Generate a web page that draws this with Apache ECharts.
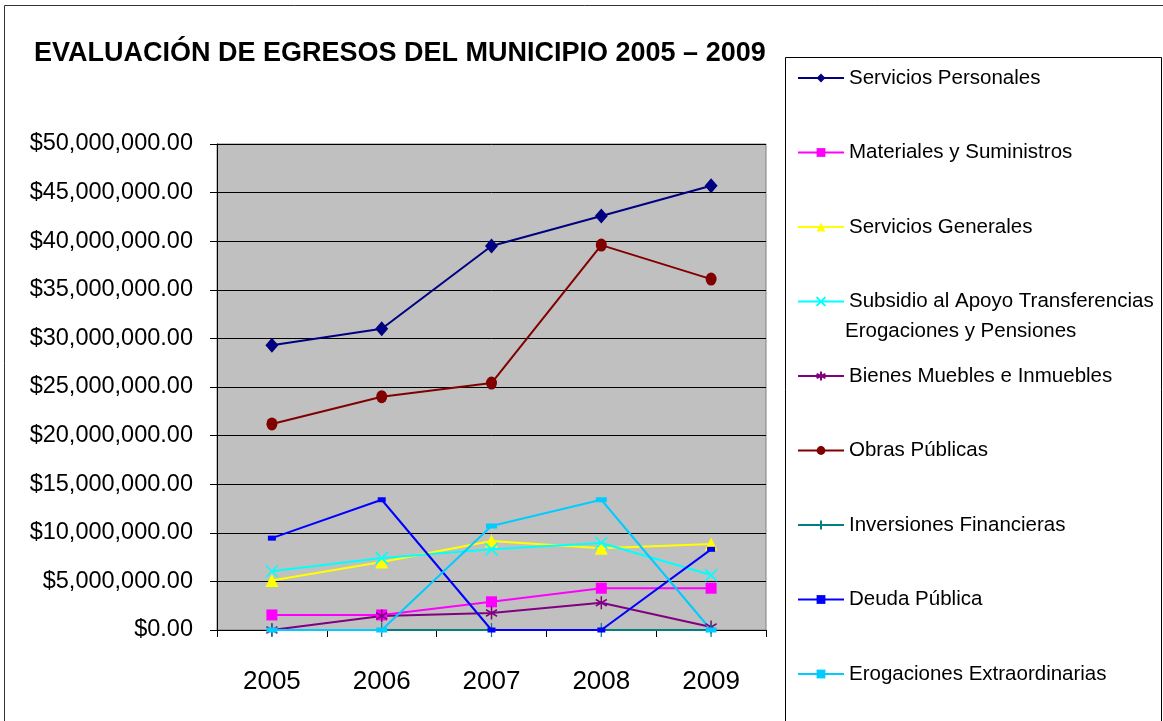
<!DOCTYPE html>
<html>
<head>
<meta charset="utf-8">
<script src="https://cdn.jsdelivr.net/npm/echarts@6/dist/echarts.min.js"></script>
<style>
  html, body { margin: 0; padding: 0; background: #fff; }
  #main { width: 1163px; height: 721px; }
</style>
</head>
<body>
<div id="main"></div>
<script>
// años
let years = ['2005', '2006', '2007', '2008', '2009'];

// valores (pesos)
let serviciosPersonales = [29300000, 31000000, 39500000, 42600000, 45700000];
let materiales = [1550000, 1550000, 2900000, 4300000, 4300000];
let serviciosGenerales = [5100000, 7000000, 9150000, 8400000, 8850000];
let subsidio = [6050000, 7400000, 8300000, 8950000, 5650000];
let bienesMuebles = [0, 1450000, 1750000, 2800000, 300000];
let obrasPublicas = [21200000, 24000000, 25400000, 39600000, 36100000];
let inversiones = [0, 0, 0, 0, 0];
let deudaPublica = [9450000, 13400000, 0, 0, 8300000];
let erogacionesExtra = [0, 0, 10700000, 13400000, 0];

let seriesNames = [
  'Servicios Personales',
  'Materiales y Suministros',
  'Servicios Generales',
  'Subsidio al Apoyo Transferencias',
  'Bienes Muebles e Inmuebles',
  'Obras Públicas',
  'Inversiones Financieras',
  'Deuda Pública',
  'Erogaciones Extraordinarias'
];

let font = '"Liberation Sans", Arial, sans-serif';

let chart = echarts.init(document.getElementById('main'));

// $50,000,000.00
function money(v) {
  let s = String(Math.round(v));
  let out = '';
  while (s.length > 3) {
    out = ',' + s.slice(-3) + out;
    s = s.slice(0, -3);
  }
  return '$' + s + out + '.00';
}

function line(name, data, color, symbol, size, stroke) {
  return {
    name: name,
    type: 'line',
    data: data,
    symbol: symbol,
    symbolSize: size,
    showSymbol: true,
    lineStyle: { color: color, width: 2 },
    itemStyle: stroke ? { color: color, borderColor: color, borderWidth: 1.6 } : { color: color },
    emphasis: { disabled: true },
    animation: false
  };
}

let cross = 'path://M-5,-5L5,5M-5,5L5,-5';
let star = 'path://M0,-6L0,6M-5.2,-3L5.2,3M-5.2,3L5.2,-3';
let plus = 'path://M0,-7L0,7M-4,0L4,0';

chart.setOption({
  backgroundColor: '#ffffff',
  title: {
    text: 'EVALUACIÓN DE EGRESOS DEL MUNICIPIO 2005 – 2009',
    left: 29,
    top: 35,
    textStyle: { fontFamily: font, fontWeight: 'bold', fontSize: 27, color: '#000' }
  },
  graphic: [
    { type: 'rect', shape: { x: 4.5, y: 5.5, width: 1175, height: 740 }, style: { fill: 'none', stroke: '#333', lineWidth: 1 }, silent: true, z: -10 },
    { type: 'rect', shape: { x: 785.5, y: 57.5, width: 376, height: 700 }, style: { fill: '#fff', stroke: '#000', lineWidth: 1 }, silent: true, z: -5 },
    { type: 'text', left: 845, top: 321, style: { text: 'Erogaciones y Pensiones', font: '20.5px "Liberation Sans", Arial, sans-serif', fill: '#000' }, silent: true }
  ],
  legend: {
    orient: 'vertical',
    left: 792,
    top: 61,
    itemWidth: 46,
    itemHeight: 11,
    itemGap: 50.5,
    data: seriesNames,
    textStyle: { fontFamily: font, fontSize: 20.5, color: '#000', lineHeight: 24 }
  },
  grid: {
    left: 217,
    right: 397,
    top: 144,
    bottom: 91,
    show: true,
    backgroundColor: '#c0c0c0',
    borderColor: '#808080',
    borderWidth: 1
  },
  xAxis: {
    type: 'category',
    data: years,
    boundaryGap: true,
    axisLine: { lineStyle: { color: '#000', width: 1 } },
    axisTick: { show: true, length: 7, lineStyle: { color: '#000' } },
    axisLabel: { fontFamily: font, fontSize: 26, color: '#000', margin: 39 }
  },
  yAxis: {
    type: 'value',
    min: 0,
    max: 50000000,
    interval: 5000000,
    axisLine: { show: true, lineStyle: { color: '#000', width: 1 } },
    axisTick: { show: true, length: 7, lineStyle: { color: '#000' } },
    splitLine: { lineStyle: { color: '#000', width: 1 } },
    axisLabel: { fontFamily: font, fontSize: 23.5, color: '#000', margin: 24, formatter: money }
  },
  series: [
    line(seriesNames[0], serviciosPersonales, '#000080', 'diamond', [13, 15]),
    line(seriesNames[1], materiales, '#ff00ff', 'rect', 11),
    line(seriesNames[2], serviciosGenerales, '#ffff00', 'triangle', 13),
    line(seriesNames[3], subsidio, '#00ffff', cross, 12, true),
    line(seriesNames[4], bienesMuebles, '#800080', star, [11, 13], true),
    line(seriesNames[5], obrasPublicas, '#800000', 'circle', [11, 13]),
    line(seriesNames[6], inversiones, '#008080', plus, [8, 14], true),
    line(seriesNames[7], deudaPublica, '#0000ff', 'rect', [8, 5]),
    line(seriesNames[8], erogacionesExtra, '#00ccff', 'rect', [11, 5])
  ]
});
</script>
</body>
</html>
